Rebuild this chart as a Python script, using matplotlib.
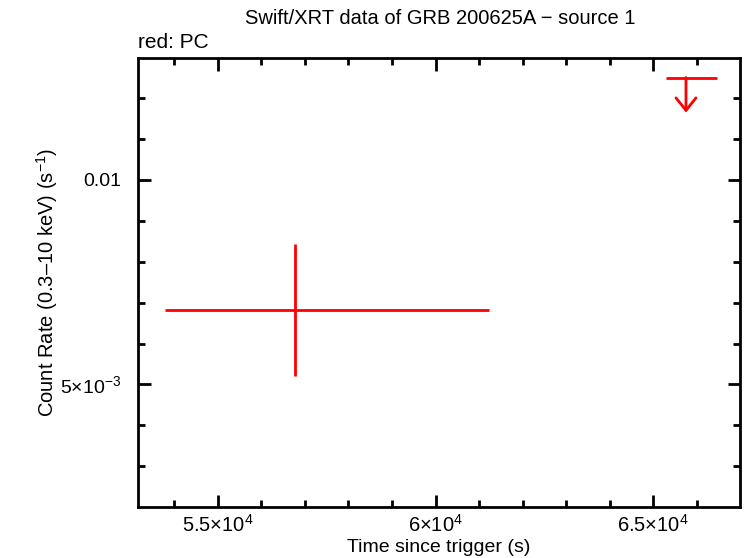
import numpy as np
import matplotlib
matplotlib.use("Agg")
import matplotlib.pyplot as plt
from matplotlib.ticker import FixedLocator, FixedFormatter, NullFormatter

plt.rcParams['font.family'] = ['Liberation Sans', 'DejaVu Sans']
plt.rcParams['mathtext.fontset'] = 'custom'
plt.rcParams['mathtext.rm'] = 'Liberation Sans'
plt.rcParams['mathtext.it'] = 'Liberation Sans'

# PC detection
pc_t = [56766]
pc_tlo = [53800]
pc_thi = [61232]
pc_rate = [0.00643]
pc_rlo = [0.00515]
pc_rhi = [0.00806]

# PC upper limit
ul_t = [65750]
ul_tlo = [65291]
ul_thi = [66454]
ul_rate = [0.01415]

xmajor = [55000, 60000, 65000]
xlabels = [r'5.5$\times$10$^{4}$', r'6$\times$10$^{4}$', r'6.5$\times$10$^{4}$']
ymajor = [0.005, 0.01]
ylabels = [r'5$\times$10$^{-3}$', '0.01']

fig = plt.figure(figsize=(7.46, 5.58), dpi=100)
ax = fig.add_axes([138/746, 1 - 507/558, (740-138)/746, (507-58)/558])

red = '#ff0000'
t = np.array(pc_t); r = np.array(pc_rate)
ax.errorbar(t, r,
            xerr=[t - np.array(pc_tlo), np.array(pc_thi) - t],
            yerr=[r - np.array(pc_rlo), np.array(pc_rhi) - r],
            fmt='none', ecolor=red, elinewidth=2, capsize=0)

ut = np.array(ul_t); ur = np.array(ul_rate)
ax.hlines(ur, ul_tlo, ul_thi, color=red, lw=2)
for x, y in zip(ut, ur):
    ax.annotate('', xy=(x, y * 10**(-35/678.7)), xytext=(x, y),
                arrowprops=dict(arrowstyle='->,head_length=0.45,head_width=0.36',
                                mutation_scale=20,
                                color=red, lw=2, shrinkA=0, shrinkB=0))

ax.set_yscale('log')
ax.set_xlim(53170, 66990)
ax.set_ylim(0.0033, 0.01512)

ax.xaxis.set_major_locator(FixedLocator(xmajor))
ax.xaxis.set_major_formatter(FixedFormatter(xlabels))
ax.xaxis.set_minor_locator(FixedLocator(np.arange(53000, 68000, 1000)))

ax.yaxis.set_major_locator(FixedLocator(ymajor))
ax.yaxis.set_major_formatter(FixedFormatter(ylabels))
step = 2 ** (1 / 5)
yminor = [0.005 * step ** k for k in range(-5, 12)]
ax.yaxis.set_minor_locator(FixedLocator(yminor))
ax.yaxis.set_minor_formatter(NullFormatter())

ax.tick_params(which='both', direction='in', top=True, right=True, width=2)
ax.tick_params(which='major', length=9)
ax.tick_params(which='minor', length=5)
ax.tick_params(axis='x', which='major', labelsize=14.5, pad=5)
ax.tick_params(axis='y', which='major', labelsize=14, pad=12)
for s in ax.spines.values():
    s.set_linewidth(2)

ax.set_xlabel('Time since trigger (s)', fontsize=14, labelpad=2)
ax.set_ylabel('Count Rate (0.3\u201310 keV) (s$^{-1}$)', fontsize=14.5, labelpad=0)
fig.text(440/746, 1 - 19/558, 'Swift/XRT data of GRB 200625A \u2212 source 1',
         ha='center', va='center', fontsize=14.5)
fig.text(138/746, 1 - 42/558, 'red: PC', ha='left', va='center', fontsize=15)

fig.savefig('out.png', dpi=100)
